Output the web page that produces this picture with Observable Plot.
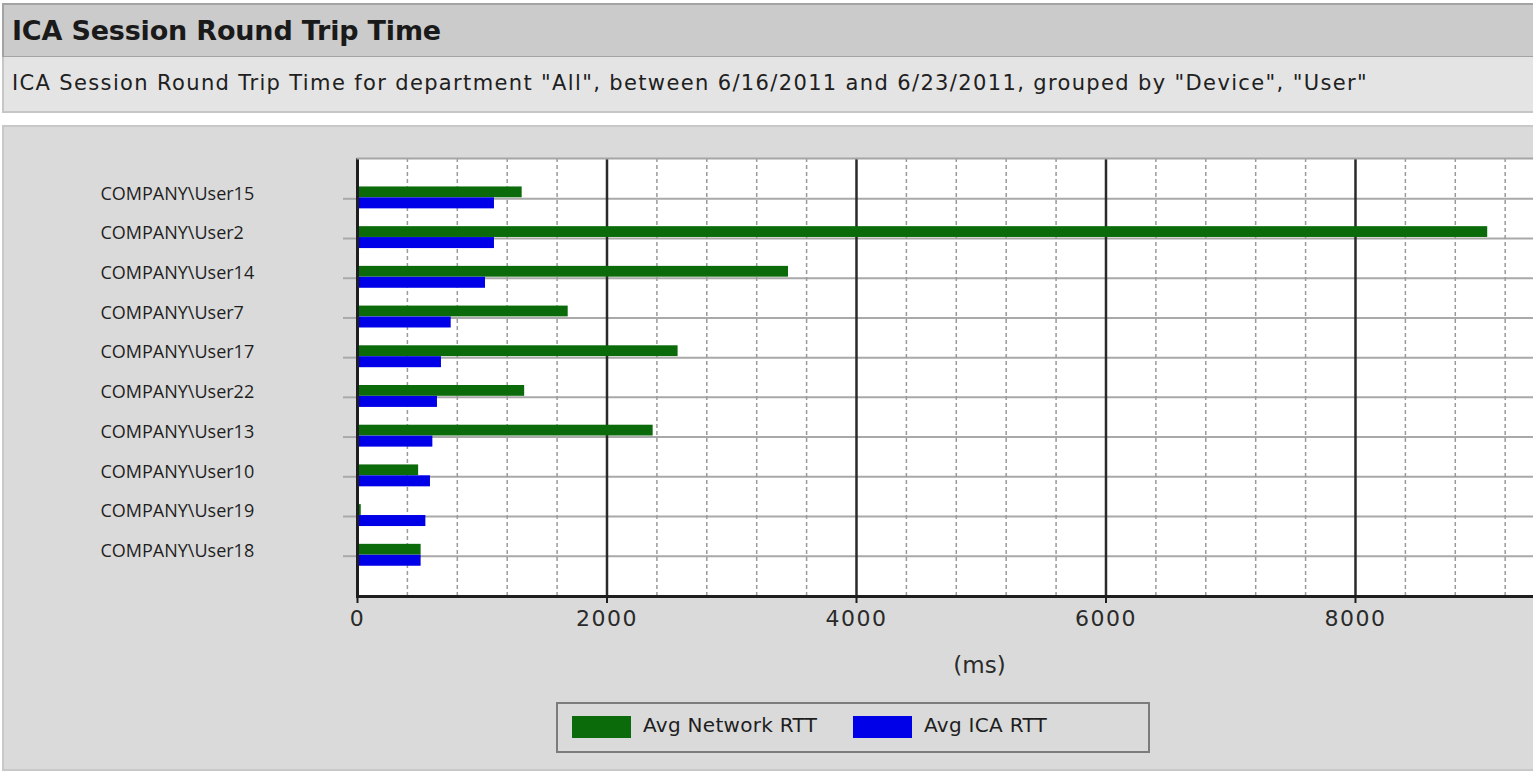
<!DOCTYPE html>
<html>
<head>
<meta charset="utf-8">
<script src="https://cdn.jsdelivr.net/npm/d3@7"></script>
<script src="https://cdn.jsdelivr.net/npm/@observablehq/plot@0.6"></script>
<style>
  html, body { margin: 0; padding: 0; background: #ffffff; width: 1533px; height: 773px; overflow: hidden; }
  body { position: relative; font-family: "DejaVu Sans", Verdana, sans-serif; }
  .box { position: absolute; box-sizing: border-box; }
  #header { left: 2px; top: 3px; width: 1540px; height: 55px; background: #cbcbcb; border: 2px solid #a3a3a3; }
  #sub { left: 2px; top: 57px; width: 1540px; height: 56px; background: #e4e4e4; border: 2px solid #c6c6c6; border-top: none; }
  #title { position: absolute; left: 8px; top: 10px; font-weight: bold; font-size: 27px; color: #1a1a1a; white-space: nowrap; }
  #subtitle { position: absolute; left: 8px; top: 14px; font-size: 21px; color: #202020; white-space: nowrap; }
  #panel { left: 2px; top: 125px; width: 1540px; height: 646px; background: #dadada; border: 2px solid #c8c8c8; }
  #chart { position: absolute; left: 0; top: 125px; }
  #legend { left: 556px; top: 702px; width: 594px; height: 51px; background: #dadada; border: 2px solid #7c7c7c; }
  .sw { position: absolute; top: 12px; width: 59px; height: 22px; }
  .lt { position: absolute; top: 9px; font-size: 20px; color: #1e1e1e; white-space: nowrap; letter-spacing: 0.3px; }
</style>
</head>
<body>
<div id="header" class="box"><span id="title">ICA Session Round Trip Time</span></div>
<div id="sub" class="box"><span id="subtitle">ICA Session Round Trip Time for department "All", between 6/16/2011 and 6/23/2011, grouped by "Device", "User"</span></div>
<div id="panel" class="box"></div>
<div id="chart"></div>
<div id="legend" class="box">
  <div class="sw" id="sw1" style="left:14px;"></div>
  <span class="lt" id="lt1" style="left:85px;">Avg Network RTT</span>
  <div class="sw" id="sw2" style="left:295px;"></div>
  <span class="lt" id="lt2" style="left:366px;">Avg ICA RTT</span>
</div>
<script>
// ---- data ----
const users = ["COMPANY\\User15", "COMPANY\\User2", "COMPANY\\User14", "COMPANY\\User7", "COMPANY\\User17",
               "COMPANY\\User22", "COMPANY\\User13", "COMPANY\\User10", "COMPANY\\User19", "COMPANY\\User18"];
const networkRtt = [1320, 9060, 3455, 1689, 2570, 1340, 2370, 490, 30, 510];
const icaRtt = [1098, 1098, 1026, 751, 673, 641, 604, 585, 548, 510];
const seriesNames = ["Avg Network RTT", "Avg ICA RTT"];
const seriesColors = ["#0b6b0b", "#0000e8"];
const majorTicks = [0, 2000, 4000, 6000, 8000];
const minorTicks = [400, 800, 1200, 1600, 2400, 2800, 3200, 3600, 4400, 4800, 5200, 5600, 6400, 6800, 7200, 7600, 8400, 8800, 9200];
const xMax = 9427;
const axisLabel = "(ms)";

const rows = users.map((u, i) => ({user: u, network: networkRtt[i], ica: icaRtt[i]}));

function fit(el, target) {
  el.style.letterSpacing = "0px";
  const w = el.getBoundingClientRect().width;
  const n = el.textContent.length;
  el.style.letterSpacing = ((target - w) / n) + "px";
}
fit(document.getElementById("title"), 429);
fit(document.getElementById("subtitle"), 1356);
document.getElementById("sw1").style.background = seriesColors[0];
document.getElementById("sw2").style.background = seriesColors[1];
document.getElementById("lt1").textContent = seriesNames[0];
document.getElementById("lt2").textContent = seriesNames[1];

const chart = Plot.plot({
  width: 1533,
  height: 646,
  marginTop: 33,
  marginBottom: 175,
  marginLeft: 357,
  marginRight: 0,
  style: {background: "transparent", fontFamily: "DejaVu Sans, Verdana, sans-serif"},
  x: {domain: [0, xMax], label: null},
  y: {domain: users, paddingInner: 0, paddingOuter: 0.515, round: false, label: null},
  marks: [
    Plot.frame({fill: "white", stroke: null}),
    Plot.ruleY(users, {y: d => d, stroke: "#a9a9a9", strokeWidth: 2}),
    Plot.ruleX(minorTicks, {stroke: "#9a9a9a", strokeWidth: 1.5, strokeDasharray: "4,3"}),
    Plot.ruleX(majorTicks, {stroke: "#2a2a2a", strokeWidth: 2.5}),
    Plot.axisY({tickSize: 14, tickFormat: () => "", stroke: "#a9a9a9", strokeWidth: 2}),
    Plot.barX(rows, {y: "user", x: "network", fill: seriesColors[0], insetTop: 8, insetBottom: 20.9}),
    Plot.barX(rows, {y: "user", x: "ica", fill: seriesColors[1], insetTop: 18.9, insetBottom: 9.8}),
    Plot.ruleX([0], {stroke: "#1e1e1e", strokeWidth: 3}),
    Plot.frame({anchor: "bottom", stroke: "#1e1e1e", strokeWidth: 3}),
    Plot.frame({anchor: "top", stroke: "#a5a5a5", strokeWidth: 2}),
    Plot.axisX({ticks: majorTicks, tickSize: 7, tickPadding: 7, fontSize: 22, stroke: "#1e1e1e", strokeWidth: 2, fill: "#2a2a2a", tickFormat: d => String(d), label: null}),
    Plot.text(users, {y: d => d, text: d => d, frameAnchor: "left", textAnchor: "start", dx: -257, dy: -5, fontSize: 18, fontFamily: "Open Sans", fill: "#1e1e1e"}),
    Plot.text([axisLabel], {text: d => d, frameAnchor: "bottom", dx: 34, dy: 69, fontSize: 23, fill: "#2a2a2a", lineAnchor: "middle"})
  ]
});
chart.querySelectorAll("g[aria-label='x-axis tick label'] text").forEach(t => t.style.letterSpacing = "1.5px");
document.getElementById("chart").appendChild(chart);
</script>
</body>
</html>
